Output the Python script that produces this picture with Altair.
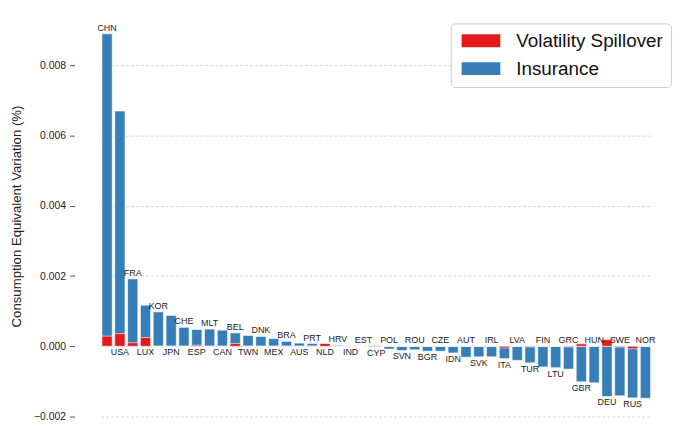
import altair as alt
import pandas as pd

countries = ["CHN","USA","FRA","LUX","KOR","JPN","CHE","ESP","MLT","CAN","BEL","TWN","DNK","MEX","BRA",
             "AUS","PRT","NLD","HRV","IND","EST","CYP","POL","SVN","ROU","BGR","CZE","IDN","AUT","SVK",
             "IRL","ITA","LVA","TUR","FIN","LTU","GRC","GBR","HUN","DEU","SWE","RUS","NOR"]

insurance = [0.0089, 0.0067, 0.00192, 0.00117, 0.00098, 0.00088, 0.00054, 0.00048, 0.00049, 0.00046,
             0.00038, 0.00031, 0.00028, 0.00022, 0.00014, 0.00009, 0.00008, 0.00003, 0.00003, 0.00002,
             0.00001, -0.00001, -0.00008, -0.00012, -0.00010, -0.00014, -0.00014, -0.00019, -0.00031,
             -0.00030, -0.00030, -0.00035, -0.00040, -0.00047, -0.00059, -0.00061, -0.00065, -0.00101,
             -0.00104, -0.00143, -0.00141, -0.00147, -0.00148]

spillover = [0.00029, 0.00036, 0.00010, 0.00025, 0.0, 0.0, 0.0, 0.00003, 0.0, 0.0,
             0.00008, 0.0, 0.0, 0.0, 0.0, 0.0, 0.0, 0.00008, 0.0, 0.0,
             0.0, 0.00002, 0.0, 0.0, 0.0, 0.0, 0.0, 0.0, 0.0,
             0.0, 0.0, -0.00005, 0.0, -0.00002, 0.0, 0.0, -0.00002, 0.00007,
             0.0, 0.00019, -0.00002, -0.00007, 0.0]

series_names = ["Volatility Spillover", "Insurance"]
series_colors = ["#e41a1c", "#377eb8"]
y_ticks = [-0.002, 0.0, 0.002, 0.004, 0.006, 0.008]

rows = []
for i, c in enumerate(countries):
    rows.append({"country": c, "series": "Insurance", "value": insurance[i]})
for i, c in enumerate(countries):
    rows.append({"country": c, "series": "Volatility Spillover", "value": spillover[i]})
df = pd.DataFrame(rows)

lab = pd.DataFrame({"country": countries})
lab["hi"] = [max(a, b, 0.0) for a, b in zip(insurance, spillover)]
lab["lo"] = [min(a, b, 0.0) for a, b in zip(insurance, spillover)]
lab["idx"] = range(len(countries))
lab_up = lab[lab["idx"] % 2 == 0]
lab_dn = lab[lab["idx"] % 2 == 1]

FONT = "Liberation Sans"

xenc = alt.X("country:N", sort=countries, axis=None,
             scale=alt.Scale(range=[26.35, 581.65], paddingInner=0.2, paddingOuter=0.1))
yscale = alt.Scale(domain=[-0.002, 0.00942], nice=False, zero=False)
color = alt.Color("series:N",
                  scale=alt.Scale(domain=series_names, range=series_colors),
                  legend=alt.Legend(title=None, orient="none", legendX=379, legendY=8,
                                    padding=8, strokeColor="#cccccc", cornerRadius=4,
                                    fillColor="white", labelFontSize=19, labelFont=FONT,
                                    labelColor="#111111",
                                    symbolType="M-1,-1H5V1H-1Z", symbolSize=169,
                                    symbolStrokeWidth=0, symbolOpacity=1,
                                    labelOffset=39, rowPadding=8))

base = alt.Chart(df)
blue = base.transform_filter(alt.datum.series == "Insurance").mark_bar(
    stroke="white", strokeWidth=0.6).encode(
    x=xenc,
    y=alt.Y("value:Q", scale=yscale,
            axis=alt.Axis(values=y_ticks, format=".3f", title="Consumption Equivalent Variation (%)",
                          grid=True, gridDash=[3, 2], gridColor="#cccccc", gridWidth=0.8,
                          domain=False, tickSize=5, tickColor="#555555", labelPadding=4,
                          labelFontSize=10.5, labelFont=FONT, labelColor="#222222",
                          titleFont=FONT, titleFontSize=13.3, titleFontWeight="normal",
                          titleColor="#222222", titlePadding=10)),
    y2=alt.datum(0),
    color=color,
)
red = base.transform_filter(alt.datum.series == "Volatility Spillover").mark_bar(
    stroke="white", strokeWidth=0.6).encode(
    x=xenc,
    y=alt.Y("value:Q", scale=yscale),
    y2=alt.datum(0),
    color=color,
)

t_up = alt.Chart(lab_up).mark_text(baseline="bottom", dy=-1, fontSize=9, font=FONT,
                                   color="#222222").encode(
    x=xenc, y=alt.Y("hi:Q", scale=yscale), text="country:N")
t_dn = alt.Chart(lab_dn).mark_text(baseline="top", dy=2, fontSize=9, font=FONT,
                                   color="#222222").encode(
    x=xenc, y=alt.Y("lo:Q", scale=yscale), text="country:N")

chart = alt.layer(blue, red, t_up, t_dn).properties(
    width=608, height=404,
    autosize=alt.AutoSizeParams(type="none"),
    padding={"left": 67, "top": 6, "right": 0, "bottom": 10},
).configure_view(stroke=None)

chart.save("out.html", embed_options={"renderer": "svg", "actions": False})
